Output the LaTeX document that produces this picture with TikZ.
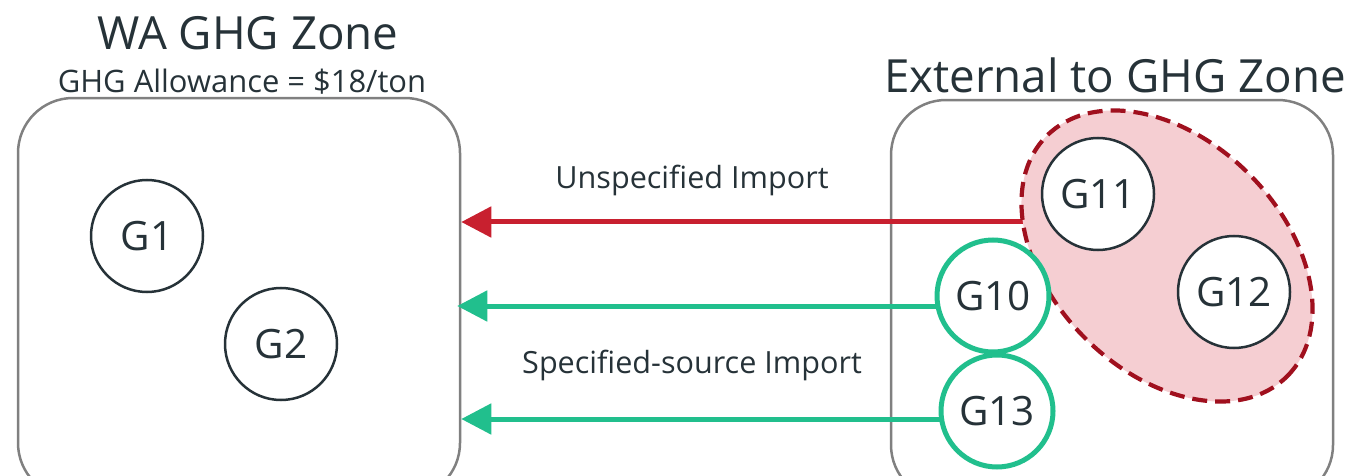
\documentclass[tikz,border=0pt]{standalone}
\usepackage{fontspec}
\setmainfont{Open Sans}
\usetikzlibrary{shapes.geometric,positioning,arrows.meta}
\definecolor{ink}{HTML}{263238}
\definecolor{boxgray}{HTML}{808080}
\definecolor{impred}{HTML}{C8202F}
\definecolor{impgreen}{HTML}{21BF8D}
\definecolor{grpred}{HTML}{A0101E}
\definecolor{grppink}{HTML}{F5CED2}
\tikzset{
  zone/.style={draw=boxgray, line width=0.25mm, rounded corners=5.5mm,
    minimum width=44.2mm, minimum height=40mm},
  ttl/.style={text=ink, font=\fontsize{13}{15}\selectfont, inner sep=0pt},
  lbl/.style={text=ink, font=\fontsize{8.7}{10}\selectfont, inner sep=0pt},
  gen/.style={circle, draw=ink, fill=white, line width=0.25mm, minimum size=11.2mm,
    inner sep=0pt, text=ink, font=\fontsize{11.5}{13}\selectfont},
  spec/.style={gen, draw=impgreen, line width=0.5mm},
  imp/.style={line width=0.5mm, -{Triangle[length=3mm,width=3mm]}},
}
\begin{document}
\begin{tikzpicture}[x=0.1mm,y=0.1mm]
        \useasboundingbox (0,0) rectangle (1370,-476);
        \clip (0,0) rectangle (1370,-476);
        %% Zones
        \node[zone] (wa) at (239,-298) {};
        \node[zone] (ext) at (1112,-300) {};
        %% Titles
        \node[ttl] (watitle) at (248,-33) {WA GHG Zone};
        \node[ttl, font=\fontsize{8.8}{10}\selectfont] (price) at (242,-82) {GHG Allowance = \$18/ton};
        \node[ttl] (exttitle) at (1115,-75) {External to GHG Zone};
        %% Import arrows
        \coordinate (u0) at (1050,-222);
        \coordinate (s0) at (993,-306);
        \coordinate (s1) at (997,-419);
        \draw[imp, impred] (u0) -- (wa.east |- u0);
        \draw[imp, impgreen] (s0) -- ([xshift=-0.4mm]wa.east |- s0);
        \draw[imp, impgreen] (s1) -- (wa.east |- s1);
        \node[lbl] (unspec) at (692,-180) {Unspecified Import};
        \node[lbl] (spec) at (692,-365) {Specified-source Import};
        %% Unspecified group
        \node[ellipse, draw=grpred, fill=grppink, line width=0.42mm, dash pattern=on 1.5mm off 0.8mm,
          minimum width=34mm, minimum height=23.2mm, inner sep=0pt, rotate=-45] (grp) at (1167,-256) {};
        %% Generators
        \node[gen] (g1) at (147,-236) {G1};
        \node[gen] (g2) at (281,-344) {G2};
        \node[gen] (g11) at (1098,-194) {G11};
        \node[gen] (g12) at (1234,-292) {G12};
        \node[spec] (g10) at (993,-296) {G10};
        \node[spec] (g13) at (997,-411) {G13};
\end{tikzpicture}
\end{document}
